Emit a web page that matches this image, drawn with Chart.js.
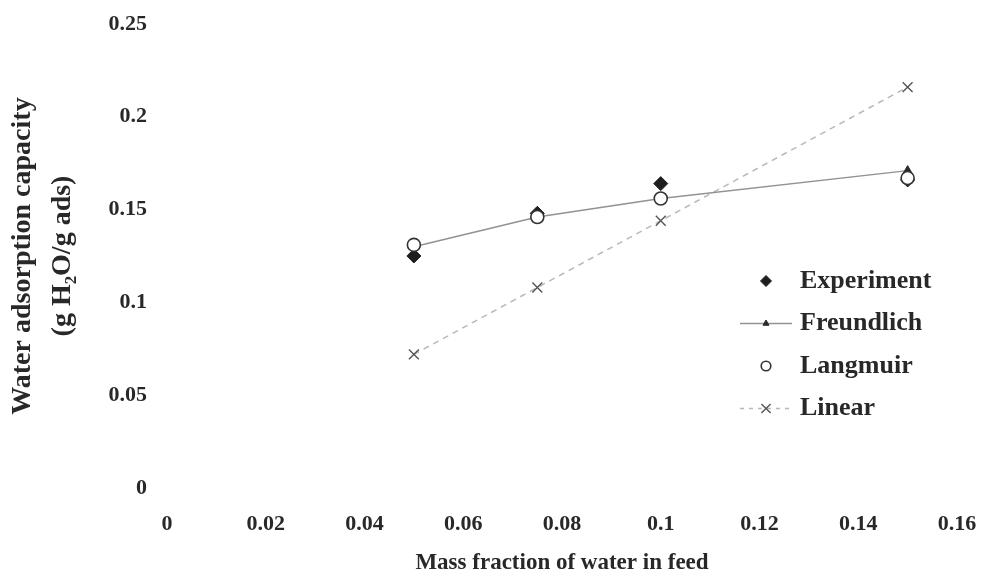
<!DOCTYPE html>
<html>
<head>
<meta charset="utf-8">
<title>Water adsorption capacity</title>
<script src="https://cdn.jsdelivr.net/npm/chart.js@4.4.0/dist/chart.umd.min.js"></script>
<style>
  html, body { margin: 0; padding: 0; background: #ffffff; }
  #wrap { width: 984px; height: 578px; }
</style>
</head>
<body>
<div id="wrap"><canvas id="myChart" width="984" height="578"></canvas></div>
<script>
const massFraction = [0.05, 0.075, 0.1, 0.15];
const experiment = [0.125, 0.148, 0.164, 0.166];
const freundlich = [0.130, 0.146, 0.156, 0.171];
const langmuir = [0.131, 0.146, 0.156, 0.167];
const linear = [0.072, 0.108, 0.144, 0.216];
const seriesNames = ["Experiment", "Freundlich", "Langmuir", "Linear"];
const xTickLabels = ["0", "0.02", "0.04", "0.06", "0.08", "0.1", "0.12", "0.14", "0.16"];
const yTickLabels = ["0", "0.05", "0.1", "0.15", "0.2", "0.25"];

const textColor = "#282828";
const serif = "'Liberation Serif', 'Times New Roman', serif";

function toPoints(values) {
  return massFraction.map(function (x, i) {
    return { x: x, y: values[i] };
  });
}

// legend drawn inside the plot, like the original
const insideLegend = {
  id: "insideLegend",
  afterDraw(chart) {
    const ctx = chart.ctx;
    const markX = 766;
    const textX = 800;
    const firstY = 281;
    const rowGap = 42.5;
    ctx.save();
    chart.data.datasets.forEach(function (ds, i) {
      const y = firstY + i * rowGap;
      if (ds.showLine) {
        ctx.beginPath();
        ctx.setLineDash(ds.borderDash ? [4, 5] : []);
        ctx.strokeStyle = ds.borderColor;
        ctx.lineWidth = ds.borderWidth;
        ctx.moveTo(markX - 26, y);
        ctx.lineTo(markX + 26, y);
        ctx.stroke();
        ctx.setLineDash([]);
      }
      ctx.fillStyle = ds.pointBackgroundColor;
      ctx.strokeStyle = ds.pointBorderColor;
      ctx.lineWidth = ds.pointBorderWidth;
      Chart.helpers.drawPoint(ctx, {
        pointStyle: ds.pointStyle,
        radius: ds.legendRadius,
        rotation: 0,
        borderWidth: ds.pointBorderWidth
      }, markX, y);
      ctx.fillStyle = textColor;
      ctx.font = "bold 26px " + serif;
      ctx.textBaseline = "middle";
      ctx.textAlign = "left";
      ctx.fillText(ds.label, textX, y);
    });
    ctx.restore();
  }
};

const ctx = document.getElementById("myChart").getContext("2d");
const myChart = new Chart(ctx, {
  type: "scatter",
  data: {
    datasets: [
      {
        label: seriesNames[0],
        data: toPoints(experiment),
        showLine: false,
        pointStyle: "rectRot",
        pointRadius: 7,
        legendRadius: 5.5,
        pointBackgroundColor: "#1e1e1e",
        pointBorderColor: "#1e1e1e",
        pointBorderWidth: 1,
        order: 2
      },
      {
        label: seriesNames[1],
        data: toPoints(freundlich),
        showLine: true,
        borderColor: "#929292",
        borderWidth: 1.5,
        pointStyle: "triangle",
        pointRadius: 5,
        legendRadius: 3.5,
        pointBackgroundColor: "#2a2a2a",
        pointBorderColor: "#2a2a2a",
        pointBorderWidth: 1,
        order: 1
      },
      {
        label: seriesNames[2],
        data: toPoints(langmuir),
        showLine: false,
        pointStyle: "circle",
        pointRadius: 6.5,
        legendRadius: 4.8,
        pointBackgroundColor: "#ffffff",
        pointBorderColor: "#333333",
        pointBorderWidth: 1.6,
        order: 0
      },
      {
        label: seriesNames[3],
        data: toPoints(linear),
        showLine: true,
        borderColor: "#b8b8b8",
        borderWidth: 1.5,
        borderDash: [6, 5],
        pointStyle: "crossRot",
        pointRadius: 7,
        legendRadius: 6.5,
        pointBackgroundColor: "#555555",
        pointBorderColor: "#555555",
        pointBorderWidth: 1.4,
        order: 3
      }
    ]
  },
  options: {
    responsive: false,
    animation: false,
    layout: { padding: { top: 24, right: 27, left: 0, bottom: 0 } },
    plugins: {
      legend: { display: false },
      tooltip: { enabled: false }
    },
    scales: {
      x: {
        type: "linear",
        min: 0,
        max: 0.16,
        grid: { display: false, drawTicks: false },
        border: { display: false },
        ticks: {
          stepSize: 0.02,
          padding: 23,
          color: textColor,
          font: { family: serif, size: 22, weight: "bold" },
          callback: function (value, index) {
            return xTickLabels[index];
          }
        },
        title: {
          display: true,
          text: "Mass fraction of water in feed",
          color: textColor,
          font: { family: serif, size: 23, weight: "bold" },
          padding: { top: 0, bottom: 1 }
        },
        afterFit: function (scale) {
          scale.height = 90;
          scale.paddingLeft = 0;
          scale.paddingRight = 0;
        }
      },
      y: {
        type: "linear",
        min: 0,
        max: 0.25,
        grid: { display: false, drawTicks: false },
        border: { display: false },
        ticks: {
          stepSize: 0.05,
          padding: 20,
          color: textColor,
          font: { family: serif, size: 22, weight: "bold" },
          callback: function (value, index) {
            return yTickLabels[index];
          }
        },
        title: {
          display: true,
          text: ["Water adsorption capacity", "(g H\u2082O/g ads)"],
          color: textColor,
          font: { family: serif, size: 28, weight: "bold", lineHeight: 1.43 },
          padding: { top: 3, bottom: 0 }
        },
        afterFit: function (scale) {
          scale.width = 167;
          scale.paddingTop = 0;
          scale.paddingBottom = 0;
        }
      }
    }
  },
  plugins: [insideLegend]
});
</script>
</body>
</html>
